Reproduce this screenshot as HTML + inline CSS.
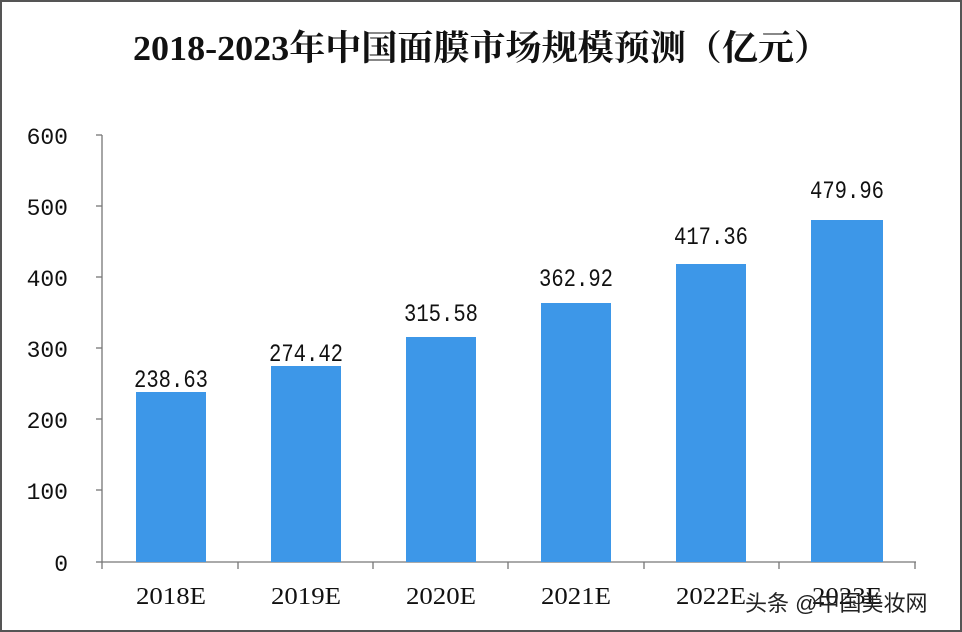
<!DOCTYPE html>
<html><head><meta charset="utf-8"><style>
html,body{margin:0;padding:0;background:#fff;}
svg{display:block;}
</style></head><body>
<svg width="962" height="632" viewBox="0 0 962 632" xmlns="http://www.w3.org/2000/svg">
<rect x="0" y="0" width="962" height="632" fill="#fff"/>
<rect x="1" y="1" width="960" height="630" fill="none" stroke="#555" stroke-width="2"/>
<text x="133" y="60" textLength="697" lengthAdjust="spacingAndGlyphs" font-family="Liberation Serif, 'Noto Serif CJK SC', serif" font-weight="bold" font-size="35" fill="#111">2018-2023年中国面膜市场规模预测（亿元）</text>
<g stroke="#777" stroke-width="1.3" fill="none">
<line x1="102" y1="135" x2="102" y2="562"/>
<line x1="102" y1="562" x2="916" y2="562"/>
<line x1="96" y1="135" x2="102" y2="135"/>
<line x1="96" y1="206" x2="102" y2="206"/>
<line x1="96" y1="277" x2="102" y2="277"/>
<line x1="96" y1="348" x2="102" y2="348"/>
<line x1="96" y1="419" x2="102" y2="419"/>
<line x1="96" y1="490" x2="102" y2="490"/>
<line x1="96" y1="562" x2="102" y2="562"/>
<line x1="102" y1="562" x2="102" y2="569"/>
<line x1="238" y1="562" x2="238" y2="569"/>
<line x1="373" y1="562" x2="373" y2="569"/>
<line x1="508" y1="562" x2="508" y2="569"/>
<line x1="644" y1="562" x2="644" y2="569"/>
<line x1="779" y1="562" x2="779" y2="569"/>
<line x1="915" y1="562" x2="915" y2="569"/>
</g>
<g font-family="Liberation Mono, monospace" font-size="23" fill="#111" text-anchor="end">
<text x="68" y="144">600</text>
<text x="68" y="215">500</text>
<text x="68" y="286">400</text>
<text x="68" y="357">300</text>
<text x="68" y="428">200</text>
<text x="68" y="499">100</text>
<text x="68" y="571">0</text>
</g>
<g fill="#3d97e8">
<rect x="136" y="392" width="70" height="170"/>
<rect x="271" y="366" width="70" height="196"/>
<rect x="406" y="337" width="70" height="225"/>
<rect x="541" y="303" width="70" height="259"/>
<rect x="676" y="264" width="70" height="298"/>
<rect x="811" y="220" width="72" height="342"/>
</g>
<g font-family="Liberation Mono, monospace" font-size="25" fill="#111" text-anchor="middle">
<text x="171" y="387" textLength="74" lengthAdjust="spacingAndGlyphs">238.63</text>
<text x="306" y="361" textLength="74" lengthAdjust="spacingAndGlyphs">274.42</text>
<text x="441" y="321" textLength="74" lengthAdjust="spacingAndGlyphs">315.58</text>
<text x="576" y="286" textLength="74" lengthAdjust="spacingAndGlyphs">362.92</text>
<text x="711" y="244" textLength="74" lengthAdjust="spacingAndGlyphs">417.36</text>
<text x="847" y="198" textLength="74" lengthAdjust="spacingAndGlyphs">479.96</text>
</g>
<g font-family="Liberation Serif, serif" font-size="24" fill="#111" text-anchor="middle">
<text x="171" y="604" textLength="70" lengthAdjust="spacingAndGlyphs">2018E</text>
<text x="306" y="604" textLength="70" lengthAdjust="spacingAndGlyphs">2019E</text>
<text x="441" y="604" textLength="70" lengthAdjust="spacingAndGlyphs">2020E</text>
<text x="576" y="604" textLength="70" lengthAdjust="spacingAndGlyphs">2021E</text>
<text x="711" y="604" textLength="70" lengthAdjust="spacingAndGlyphs">2022E</text>
<text x="847" y="604" textLength="70" lengthAdjust="spacingAndGlyphs">2023E</text>
</g>
<text x="745" y="611" font-family="Liberation Sans, 'Noto Sans CJK SC', sans-serif" font-size="22" fill="#222">头条 @中国美妆网</text>
</svg>
</body></html>
